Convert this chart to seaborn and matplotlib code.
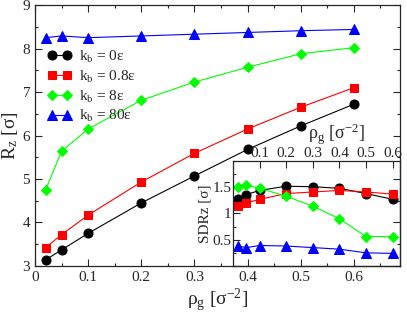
import numpy as np
import pandas as pd
import matplotlib
matplotlib.use("Agg")
import matplotlib.pyplot as plt
from matplotlib.ticker import MultipleLocator
import seaborn as sns

rho = [0.02, 0.05, 0.1, 0.2, 0.3, 0.4, 0.5, 0.6]

rz_k0 = [3.14, 3.37, 3.75, 4.45, 5.07, 5.68, 6.22, 6.72]
rz_k08 = [3.42, 3.72, 4.17, 4.93, 5.59, 6.15, 6.65, 7.10]
rz_k8 = [4.75, 5.64, 6.15, 6.81, 7.23, 7.57, 7.88, 8.02]
rz_k80 = [8.25, 8.29, 8.25, 8.29, 8.33, 8.37, 8.41, 8.44]

sd_k0 = [1.27, 1.36, 1.44, 1.52, 1.51, 1.48, 1.38, 1.27]
sd_k08 = [1.14, 1.20, 1.27, 1.38, 1.41, 1.44, 1.41, 1.37]
sd_k8 = [1.51, 1.54, 1.48, 1.33, 1.14, 0.90, 0.56, 0.56]
sd_k80 = [0.38, 0.35, 0.39, 0.38, 0.35, 0.32, 0.25, 0.24]

labels = ["k$_\\mathrm{b}$ = 0ε", "k$_\\mathrm{b}$ = 0.8ε",
          "k$_\\mathrm{b}$ = 8ε", "k$_\\mathrm{b}$ = 80ε"]
colors = ["black", "red", "#00ff00", "blue"]
markers = ["o", "s", "D", "^"]
msizes = [6.5, 6, 5, 6.5]

sns.set_style("ticks")
plt.rcParams["font.family"] = ["Liberation Serif", "DejaVu Serif"]
plt.rcParams["mathtext.fontset"] = "custom"
plt.rcParams["mathtext.rm"] = "Liberation Serif"
plt.rcParams["mathtext.it"] = "Liberation Serif:italic"
plt.rcParams["xtick.direction"] = "in"
plt.rcParams["ytick.direction"] = "in"

fig = plt.figure(figsize=(4.07, 3.17), dpi=100)
ax = fig.add_axes([0.086, 0.161, 0.897, 0.823])

main = [rz_k0, rz_k08, rz_k8, rz_k80]
for vals, lab, c, m, ms in zip(main, labels, colors, markers, msizes):
    sns.lineplot(x=rho, y=vals, ax=ax, color=c, marker=m, markersize=ms,
                 markeredgecolor=c, linewidth=0.8, label=lab)

ax.set_xlim(0, 0.687)
ax.set_ylim(3, 9)
ax.xaxis.set_major_locator(MultipleLocator(0.1))
ax.xaxis.set_minor_locator(MultipleLocator(0.05))
ax.yaxis.set_major_locator(MultipleLocator(1))
ax.yaxis.set_minor_locator(MultipleLocator(0.5))
ax.set_xticks([0, 0.1, 0.2, 0.3, 0.4, 0.5, 0.6])
ax.set_xticklabels(["0", "0.1", "0.2", "0.3", "0.4", "0.5", "0.6"])
ax.tick_params(which="both", top=True, right=True, labelsize=11, width=0.8)
ax.tick_params(which="major", length=5)
ax.tick_params(which="minor", length=2.5)
ax.set_xlabel("ρ$_\\mathrm{g}$ [σ$^{-2}$]", fontsize=14, labelpad=2)
ax.set_ylabel("R$_\\mathrm{z}$ [σ]", fontsize=14, labelpad=2)
for s in ax.spines.values():
    s.set_linewidth(0.9)

leg = ax.legend(loc="upper left", bbox_to_anchor=(0.0, 0.88), frameon=False,
                fontsize=11, numpoints=2, handlelength=1.6, handletextpad=0.5,
                labelspacing=0.25, borderaxespad=0.4)

ins = fig.add_axes([0.5725, 0.161, 0.4105, 0.331])
ins.patch.set_alpha(0)
inset = [sd_k0, sd_k08, sd_k8, sd_k80]
for vals, c, m, ms in zip(inset, colors, markers, msizes):
    sns.lineplot(x=rho, y=vals, ax=ins, color=c, marker=m, markersize=ms,
                 markeredgecolor=c, linewidth=0.8, legend=False)
ins.set_xlim(0, 0.628)
ins.set_ylim(0, 2)
ins.xaxis.set_major_locator(MultipleLocator(0.1))
ins.yaxis.set_major_locator(MultipleLocator(0.5))
ins.yaxis.set_minor_locator(MultipleLocator(0.25))
ins.set_yticks([0.5, 1, 1.5])
ins.set_yticklabels(["0.5", "1", "1.5"])
ins.set_xticks([0.1, 0.2, 0.3, 0.4, 0.5, 0.6])
ins.tick_params(which="both", bottom=False, labelbottom=False, top=True,
                labeltop=True, right=False, labelsize=11, width=0.8, pad=1)
ins.tick_params(which="major", length=5)
ins.tick_params(which="minor", length=2.5)
ins.xaxis.set_label_position("top")
ins.set_xlabel("ρ$_\\mathrm{g}$ [σ$^{-2}$]", fontsize=13)
ins.xaxis.set_label_coords(0.62, 1.21)
ins.set_ylabel("SDRz [σ]", fontsize=11, labelpad=1)
for s in ins.spines.values():
    s.set_linewidth(0.9)

fig.savefig("out.png", dpi=100)
